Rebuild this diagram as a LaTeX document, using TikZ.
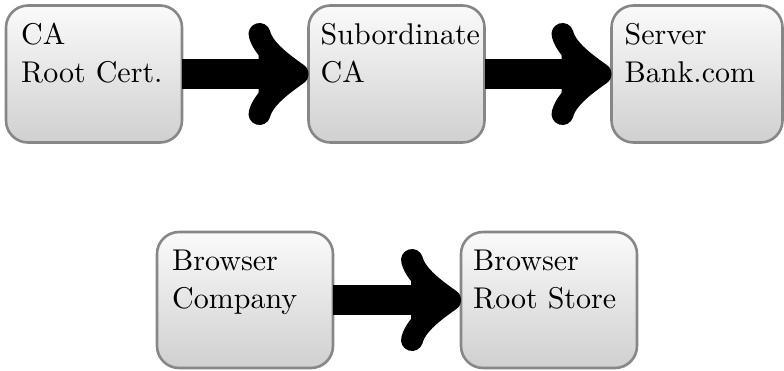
\documentclass[tikz,border=0pt]{standalone}
\usepackage{fontspec}
\setmainfont{lmroman10-regular}[Extension=.otf]
\usetikzlibrary{calc}
\definecolor{boxtop}{HTML}{FAFAFA}
\definecolor{boxbot}{HTML}{D0D0D0}
\definecolor{boxline}{HTML}{878787}
\begin{document}
\begin{tikzpicture}[x=1pt,y=-1pt,
  certbox/.style={draw=boxline,line width=2.6pt,rounded corners=22pt,
    top color=boxtop,bottom color=boxbot,minimum width=176pt,minimum height=137pt,
    inner sep=0pt,outer sep=0pt},
  lbl/.style={anchor=base west,align=left,inner sep=0pt,
    font=\fontsize{30}{38}\selectfont},
  shaft/.style={line width=30pt,line cap=butt,black},
  headstroke/.style={line width=22pt,line cap=round,line join=round,black}]
\useasboundingbox (0,0) rectangle (784,370);
% boxes
\node[certbox] (b1) at (94,74) {};
\node[certbox] (b2) at (396.5,74) {};
\node[certbox,minimum width=171pt] (b3) at (697,74) {};
\node[certbox,minimum height=136pt] (b4) at (245,300) {};
\node[certbox,minimum height=136pt] (b5) at (549,300) {};
% labels (base anchor = baseline of the last line)
\node[lbl] (t1) at ($(b1.north west)+(15,77)$) {CA\\Root Cert.};
\node[lbl] (t2) at ($(b2.north west)+(12,77)$) {Subordinate\\CA};
\node[lbl] (t3) at ($(b3.north west)+(13,77)$) {Server\\Bank.com};
\node[lbl] (t4) at ($(b4.north west)+(15,76)$) {Browser\\Company};
\node[lbl] (t5) at ($(b5.north west)+(12,76)$) {Browser\\Root Store};
% arrows
\foreach \s/\t in {b1/b2,b2/b3,b4/b5}{
  \draw[shaft] (\s.east) -- ($(\t.west)+(-20,0)$);
  \fill[black] ($(\t.west)+(-50,-22)$) -- ($(\t.west)+(-12,0)$) -- ($(\t.west)+(-50,22)$) -- cycle;
  \draw[headstroke] ($(\t.west)+(-49,-40)$) .. controls +(4,16) and +(-14,-10) ..
     ($(\t.west)+(-11,0)$) .. controls +(-14,10) and +(4,-16) .. ($(\t.west)+(-49,40)$);
}
\end{tikzpicture}
\end{document}
